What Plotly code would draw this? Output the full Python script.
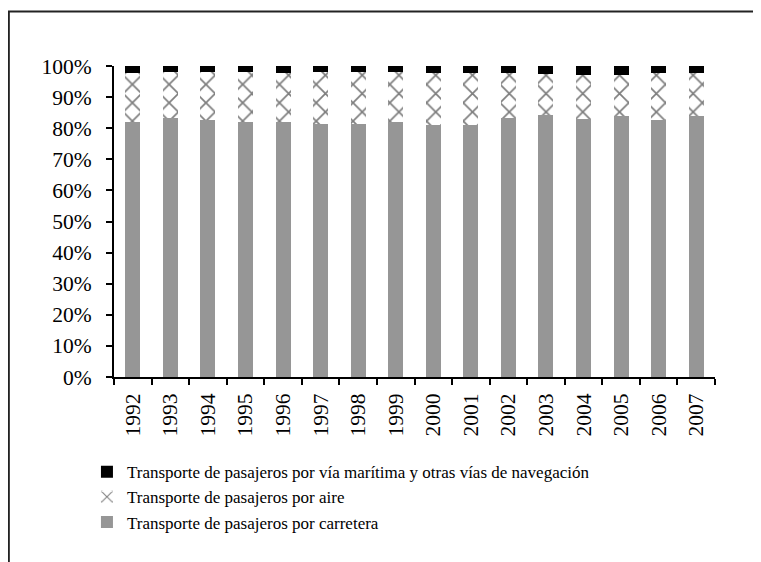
import plotly.graph_objects as go

years = ["1992", "1993", "1994", "1995", "1996", "1997", "1998", "1999",
         "2000", "2001", "2002", "2003", "2004", "2005", "2006", "2007"]

# share of passenger transport (%)
carretera = [82.1, 83.4, 82.7, 81.9, 81.9, 81.5, 81.5, 82.0,
             81.1, 81.1, 83.3, 84.4, 83.1, 83.9, 82.6, 84.0]
maritima = [2.1, 2.0, 2.0, 2.0, 2.1, 2.0, 2.0, 2.0,
            2.3, 2.1, 2.1, 2.7, 2.8, 2.8, 2.4, 2.2]
aire = [round(100 - c - m, 1) for c, m in zip(carretera, maritima)]

names = ["Transporte de pasajeros por carretera",
         "Transporte de pasajeros por aire",
         "Transporte de pasajeros por vía marítima y otras vías de navegación"]

font = "Liberation Serif, Times New Roman, serif"

fig = go.Figure()
fig.add_trace(go.Bar(x=years, y=carretera, name=names[0],
                     marker=dict(color="#969696", line=dict(width=0))))
fig.add_trace(go.Bar(x=years, y=aire, name=names[1],
                     marker=dict(color="white", line=dict(width=0),
                                 pattern=dict(shape="x", fgcolor="black", bgcolor="white",
                                              size=13, solidity=0.25))))
fig.add_trace(go.Bar(x=years, y=maritima, name=names[2],
                     marker=dict(color="black", line=dict(width=0))))

# outer frame (only top and left edges visible)
fig.add_shape(type="path", xref="paper", yref="paper",
              path="M -0.175 -0.65 L -0.175 1.175 L 1.3 1.175",
              line=dict(color="#222222", width=2))

fig.update_layout(
    width=761, height=562,
    margin=dict(l=106, r=54, t=58, b=193),
    barmode="stack", bargap=0.6,
    plot_bgcolor="white", paper_bgcolor="white",
    font=dict(family=font, color="black", size=17),
    legend=dict(x=-0.045, y=-0.248, xanchor="left", yanchor="top",
                font=dict(size=17), itemwidth=30, tracegroupgap=0,
                bgcolor="rgba(0,0,0,0)"),
    xaxis=dict(showline=True, linecolor="black", linewidth=2,
               ticks="outside", ticklen=6, tickwidth=2, tickcolor="black",
               tickson="boundaries", tickangle=-90, automargin=False,
               ticklabelstandoff=6,
               tickfont=dict(size=21.5), showgrid=False),
    yaxis=dict(range=[0, 100], dtick=10, ticksuffix="%", automargin=False,
               showline=True, linecolor="black", linewidth=2,
               ticks="outside", ticklen=6, tickwidth=2, tickcolor="black",
               ticklabelstandoff=10,
               tickfont=dict(size=21.5), showgrid=False, zeroline=False),
)

fig.write_html("out.html")
